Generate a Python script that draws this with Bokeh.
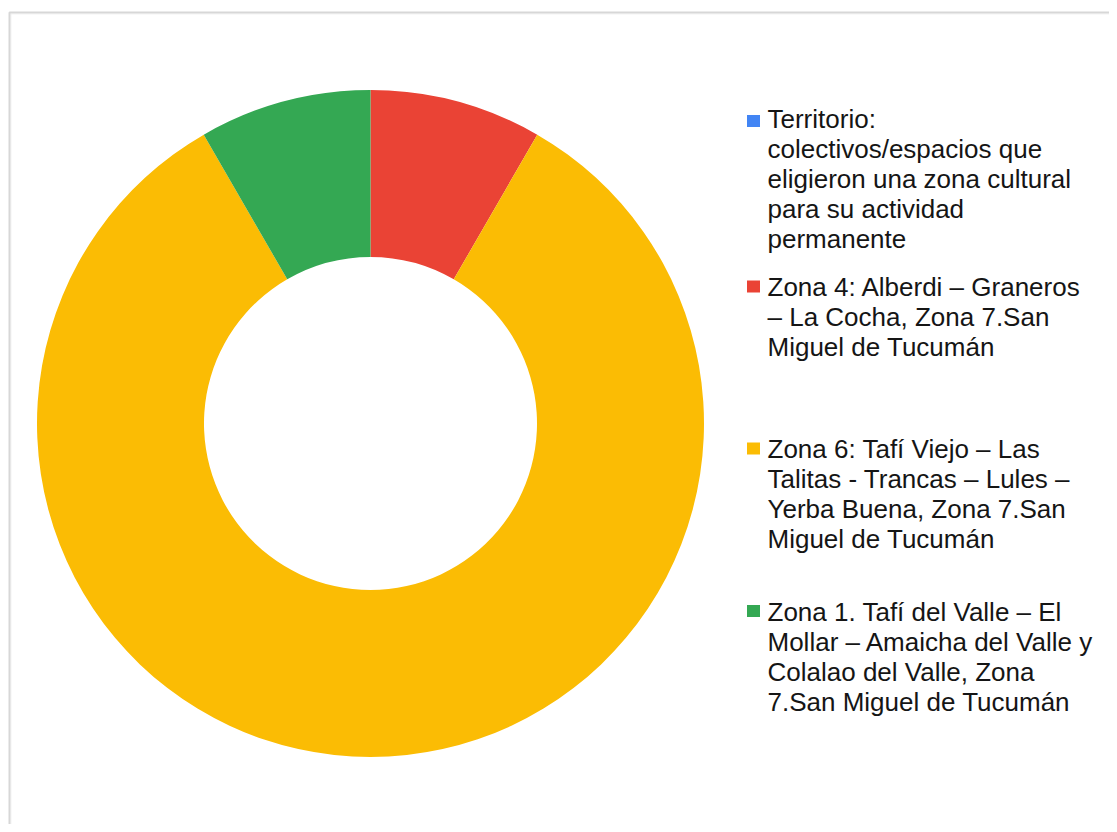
import numpy as np
from bokeh.plotting import figure
from bokeh.models import ColumnDataSource, Range1d, BoxAnnotation
from bokeh.core.properties import value
from bokeh.embed import file_html
from bokeh.resources import INLINE

# ---------------- data ----------------
categories = [
    "Territorio: colectivos/espacios que eligieron una zona cultural para su actividad permanente",
    "Zona 4: Alberdi – Graneros – La Cocha, Zona 7.San Miguel de Tucumán",
    "Zona 6: Tafí Viejo – Las Talitas - Trancas – Lules – Yerba Buena, Zona 7.San Miguel de Tucumán",
    "Zona 1. Tafí del Valle – El Mollar – Amaicha del Valle y Colalao del Valle, Zona 7.San Miguel de Tucumán",
]
legend_labels = [
    "Territorio:\ncolectivos/espacios que\neligieron una zona cultural\npara su actividad\npermanente",
    "Zona 4: Alberdi – Graneros\n– La Cocha, Zona 7.San\nMiguel de Tucumán",
    "Zona 6: Tafí  Viejo – Las\nTalitas - Trancas  – Lules –\nYerba Buena, Zona 7.San\nMiguel de Tucumán",
    "Zona 1. Tafí  del Valle – El\nMollar – Amaicha del Valle y\nColalao del Valle, Zona\n7.San Miguel de Tucumán",
]
counts = [0, 1, 10, 1]
colors = ["#4285F4", "#EA4335", "#FBBC04", "#34A853"]

# ---------------- layout ----------------
W, H = 1109, 824
CX, CY = 370, 401          # donut centre (canvas px, y up)
R_OUT, R_IN = 333.5, 166.5
LEG_TEXT_X = 767
LEG_TEXT_TOP = [720.2, 552.7, 390.7, 227.7]
LEG_SQ_X = 753
LEG_SQ_Y = [703.5, 538, 376, 213.5]

vals = np.array(counts, dtype=float)
total = vals.sum()
cum = np.concatenate([[0.0], np.cumsum(vals)])
start = np.pi / 2 - 2 * np.pi * cum[:-1] / total
end = np.pi / 2 - 2 * np.pi * cum[1:] / total
mask = vals > 0

wedges = ColumnDataSource(dict(
    cat=[c for c, m in zip(categories, mask) if m],
    start=start[mask], end=end[mask],
    color=[c for c, m in zip(colors, mask) if m],
    x=[CX] * int(mask.sum()), y=[CY] * int(mask.sum()),
))

legend = ColumnDataSource(dict(
    label=legend_labels, color=colors,
    tx=[LEG_TEXT_X] * len(categories), ty=LEG_TEXT_TOP,
    sx=[LEG_SQ_X] * len(categories), sy=LEG_SQ_Y,
))

p = figure(width=W, height=H, output_backend="svg", toolbar_location=None,
           x_range=Range1d(0, W), y_range=Range1d(0, H),
           x_axis_location=None, y_axis_location=None,
           min_border=0, outline_line_color=None,
           background_fill_color="white", border_fill_color="white")
p.grid.visible = False

p.annular_wedge(x="x", y="y", inner_radius=R_IN, outer_radius=R_OUT,
                start_angle="start", end_angle="end", direction="clock",
                fill_color="color", line_color=None, source=wedges)

p.rect(x="sx", y="sy", width=13, height=12, fill_color="color",
       line_color=None, source=legend)
p.text(x="tx", y="ty", text="label", source=legend,
       text_font=value("Liberation Sans"), text_font_size="26px",
       text_line_height=1.0, text_color="#151515",
       text_baseline="top", text_align="left")

# chart border (only left/top visible in the window)
p.add_layout(BoxAnnotation(left=9, right=5000, top=812, bottom=-5000,
                           fill_alpha=0, line_color="#7a7a7a", line_width=2,
                           level="overlay"))
p.add_layout(BoxAnnotation(left=10.5, right=5000, top=810.5, bottom=-5000,
                           fill_alpha=0, line_color="#d8d8d8", line_width=1,
                           level="overlay"))

open("out.html", "w").write(file_html(p, INLINE))
